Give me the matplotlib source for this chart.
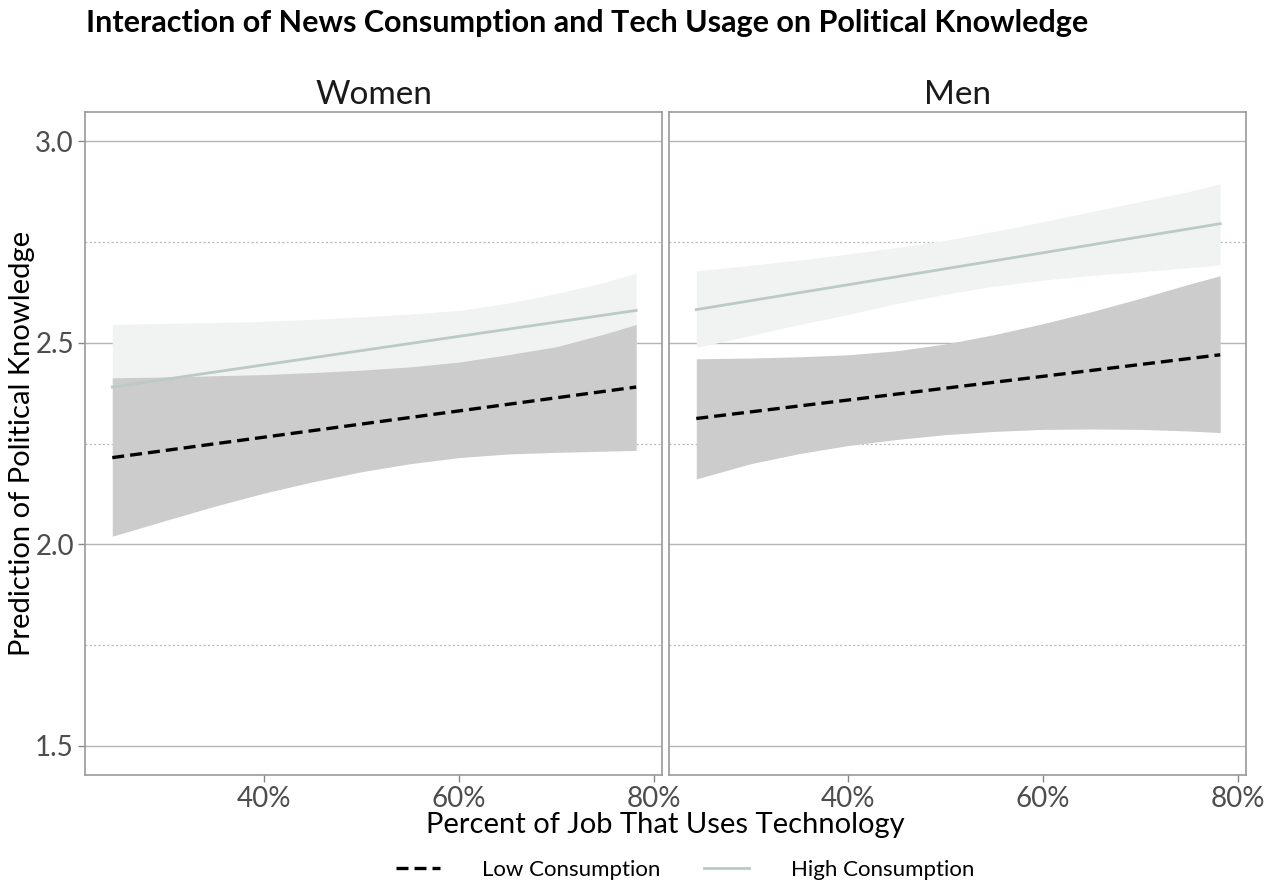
import matplotlib
matplotlib.use("Agg")
import matplotlib.pyplot as plt
from matplotlib.ticker import FuncFormatter, MultipleLocator
from matplotlib.lines import Line2D

plt.rcParams['font.family'] = ['Lato', 'DejaVu Sans']

# x positions (percent of job that uses technology)
x_band = [24.4, 30, 35, 40, 45, 50, 55, 60, 65, 70, 75, 78.2]
x_line = [24.4, 78.2]

# Women
w_low_line = [2.215, 2.39]
w_low_upper = [2.413, 2.415, 2.418, 2.421, 2.426, 2.432, 2.440, 2.452, 2.470, 2.490, 2.522, 2.545]
w_low_lower = [2.020, 2.060, 2.095, 2.127, 2.155, 2.180, 2.200, 2.215, 2.224, 2.228, 2.231, 2.233]
w_high_line = [2.39, 2.58]
w_high_upper = [2.545, 2.548, 2.550, 2.553, 2.558, 2.564, 2.571, 2.580, 2.598, 2.622, 2.650, 2.673]
w_high_lower = [2.235, 2.270, 2.300, 2.330, 2.360, 2.390, 2.405, 2.420, 2.440, 2.460, 2.480, 2.490]

# Men
m_low_line = [2.312, 2.47]
m_low_upper = [2.460, 2.462, 2.465, 2.470, 2.480, 2.497, 2.520, 2.547, 2.577, 2.610, 2.645, 2.666]
m_low_lower = [2.162, 2.200, 2.225, 2.245, 2.260, 2.272, 2.280, 2.285, 2.286, 2.285, 2.281, 2.277]
m_high_line = [2.582, 2.795]
m_high_upper = [2.678, 2.692, 2.705, 2.720, 2.736, 2.754, 2.776, 2.800, 2.825, 2.850, 2.875, 2.894]
m_high_lower = [2.488, 2.518, 2.545, 2.570, 2.597, 2.620, 2.640, 2.655, 2.667, 2.676, 2.686, 2.693]

panels = ["Women", "Men"]
x_ticks = [40, 60, 80]
y_ticks = [1.5, 2.0, 2.5, 3.0]

dark_fill = "#cccccc"
light_fill = "#f1f3f2"
high_col = "#bccac7"
grid_col = "#b5b5b5"
dash = (0, (3.6, 1.8))

fig = plt.figure(figsize=(12.68, 8.86), dpi=100)
ax1 = fig.add_axes([85/1268, 111/886, 577/1268, 663/886])
ax2 = fig.add_axes([669/1268, 111/886, 577/1268, 663/886])

data = [
    (w_low_line, w_low_upper, w_low_lower, w_high_line, w_high_upper, w_high_lower),
    (m_low_line, m_low_upper, m_low_lower, m_high_line, m_high_upper, m_high_lower),
]

for ax, name, d in zip([ax1, ax2], panels, data):
    low_line, low_up, low_lo, high_line, high_up, high_lo = d
    ax.fill_between(x_band, high_lo, high_up, color=light_fill, lw=0, zorder=2)
    ax.fill_between(x_band, low_lo, low_up, color=dark_fill, lw=0, zorder=3)
    ax.plot(x_line, high_line, color=high_col, lw=2, zorder=4)
    ax.plot(x_line, low_line, color="black", lw=2.4, ls=dash, zorder=5)

    ax.set_xlim(21.6, 80.85)
    ax.set_ylim(1.428, 3.072)
    ax.set_xticks(x_ticks)
    ax.xaxis.set_major_formatter(FuncFormatter(lambda v, p: f"{v:.0f}%"))
    ax.set_yticks(y_ticks)
    ax.yaxis.set_minor_locator(MultipleLocator(0.25))
    ax.grid(axis='y', which='major', color=grid_col, lw=1, zorder=1)
    ax.grid(axis='y', which='minor', color=grid_col, lw=0.9, ls=(0, (1.5, 2)), zorder=1)
    ax.tick_params(axis='y', which='minor', length=0)
    ax.tick_params(axis='both', which='major', labelsize=20, labelcolor="#4d4d4d",
                   color="#888888", length=5, width=1, pad=3)
    for s in ax.spines.values():
        s.set_color("#999999")
        s.set_linewidth(1.2)
    ax.set_title(name, fontsize=24, pad=6, color="#1a1a1a")

ax2.tick_params(axis='y', labelleft=False, length=0)

fig.text(22/1268, 1 - 443/886, "Prediction of Political Knowledge", fontsize=21,
         rotation=90, ha='center', va='center')
fig.text(665/1268, 1 - 825/886, "Percent of Job That Uses Technology", fontsize=21,
         ha='center', va='center')
fig.text(86/1268, 1 - 23/886, "Interaction of News Consumption and Tech Usage on Political Knowledge",
         fontsize=22, fontweight='bold', ha='left', va='center')

handles = [
    Line2D([], [], color="black", lw=2.4, ls=dash),
    Line2D([], [], color=high_col, lw=2),
]
fig.legend(handles, ["Low Consumption", "High Consumption"], loc='center',
           bbox_to_anchor=(685/1268, 1 - 870/886), ncol=2, frameon=False,
           fontsize=16, handlelength=2.0, handletextpad=1.9, columnspacing=1.95)

fig.savefig("out.png", dpi=100)
